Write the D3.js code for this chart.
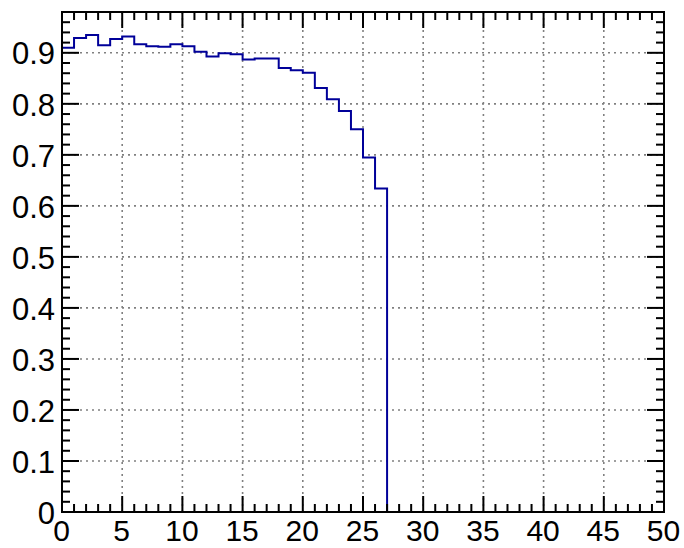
<!DOCTYPE html>
<html>
<head>
<meta charset="utf-8">
<script src="https://cdn.jsdelivr.net/npm/d3@7"></script>
<style>
  html, body { margin: 0; padding: 0; background: #fff; }
  svg { display: block; }
  text { font-family: "Liberation Sans", Arial, Helvetica, sans-serif; }
</style>
</head>
<body>
<svg id="chart" width="684" height="548"></svg>
<script>
// ---- data ----
const binLow = [0,1,2,3,4,5,6,7,8,9,10,11,12,13,14,15,16,17,18,19,20,21,22,23,24,25,26,27,28,29,30,31,32,33,34,35,36,37,38,39,40,41,42,43,44,45,46,47,48,49];
const binValues = [0.910,0.929,0.935,0.915,0.927,0.932,0.917,0.913,0.912,0.917,0.913,0.902,0.893,0.899,0.897,0.887,0.889,0.889,0.870,0.866,0.861,0.831,0.809,0.786,0.750,0.695,0.634,0,0,0,0,0,0,0,0,0,0,0,0,0,0,0,0,0,0,0,0,0,0,0];
const xTickLabels = ["0","5","10","15","20","25","30","35","40","45","50"];
const yTickLabels = ["0","0.1","0.2","0.3","0.4","0.5","0.6","0.7","0.8","0.9"];
const xDomain = [0, 50];
const yDomain = [0, 0.98];

// ---- layout ----
const L = 62, R = 664, T = 12, B = 512;
const svg = d3.select("#chart");
const x = d3.scaleLinear().domain(xDomain).range([L, R]);
const y = d3.scaleLinear().domain(yDomain).range([B, T]);

const xMajor = xTickLabels.map(Number);
const yMajor = yTickLabels.map(Number);
const xMinor = d3.range(0, 51, 1).filter(v => v % 5 !== 0);
const yMinor = d3.range(0, 50).map(i => i * 0.02).filter((v, i) => i % 5 !== 0 && v <= 0.9801);

// grid
const grid = svg.append("g").attr("stroke", "#808080").attr("stroke-width", 1.6)
  .attr("stroke-dasharray", "2,4").attr("fill", "none");
xMajor.filter(v => v > 0 && v < 50).forEach(v => {
  grid.append("line").attr("x1", x(v)).attr("x2", x(v)).attr("y1", B).attr("y2", T);
});
yMajor.filter(v => v > 0).forEach(v => {
  grid.append("line").attr("x1", L).attr("x2", R).attr("y1", y(v)).attr("y2", y(v));
});

// histogram
const pts = binLow.map((b, i) => [b, binValues[i]]);
pts.push([xDomain[1], binValues[binValues.length - 1]]);
svg.append("path")
  .attr("d", d3.line().x(d => x(d[0])).y(d => y(d[1])).curve(d3.curveStepAfter)(pts))
  .attr("fill", "none").attr("stroke", "#000099").attr("stroke-width", 2);

// axes with ticks on all sides
const xMajLen = 16, xMinLen = 8, yMajLen = 17, yMinLen = 8;
const axBottom = d3.axisBottom(x).tickValues(xMajor).tickSize(0).tickFormat((d, i) => xTickLabels[i]);
const gB = svg.append("g").attr("transform", `translate(0,${B})`).call(axBottom);
gB.select(".domain").remove();
gB.selectAll("text").attr("font-size", 30).attr("fill", "#000").attr("dy", 0).attr("y", 29).attr("dx", -1);

const axLeft = d3.axisLeft(y).tickValues(yMajor).tickSize(0).tickFormat((d, i) => yTickLabels[i]);
const gL = svg.append("g").attr("transform", `translate(${L},0)`).call(axLeft);
gL.select(".domain").remove();
gL.selectAll("text").attr("font-size", 31).attr("fill", "#000").attr("x", -7).attr("dy", "0.36em");

const tk = svg.append("g").attr("stroke", "#000").attr("stroke-width", 2);
xMajor.forEach(v => {
  tk.append("line").attr("x1", x(v)).attr("x2", x(v)).attr("y1", B).attr("y2", B - xMajLen);
  tk.append("line").attr("x1", x(v)).attr("x2", x(v)).attr("y1", T).attr("y2", T + xMajLen);
});
xMinor.forEach(v => {
  tk.append("line").attr("x1", x(v)).attr("x2", x(v)).attr("y1", B).attr("y2", B - xMinLen);
  tk.append("line").attr("x1", x(v)).attr("x2", x(v)).attr("y1", T).attr("y2", T + xMinLen);
});
yMajor.forEach(v => {
  tk.append("line").attr("x1", L).attr("x2", L + yMajLen).attr("y1", y(v)).attr("y2", y(v));
  tk.append("line").attr("x1", R).attr("x2", R - yMajLen).attr("y1", y(v)).attr("y2", y(v));
});
yMinor.forEach(v => {
  tk.append("line").attr("x1", L).attr("x2", L + yMinLen).attr("y1", y(v)).attr("y2", y(v));
  tk.append("line").attr("x1", R).attr("x2", R - yMinLen).attr("y1", y(v)).attr("y2", y(v));
});

// frame
svg.append("rect").attr("x", L).attr("y", T).attr("width", R - L).attr("height", B - T)
  .attr("fill", "none").attr("stroke", "#000").attr("stroke-width", 2);
</script>
</body>
</html>
